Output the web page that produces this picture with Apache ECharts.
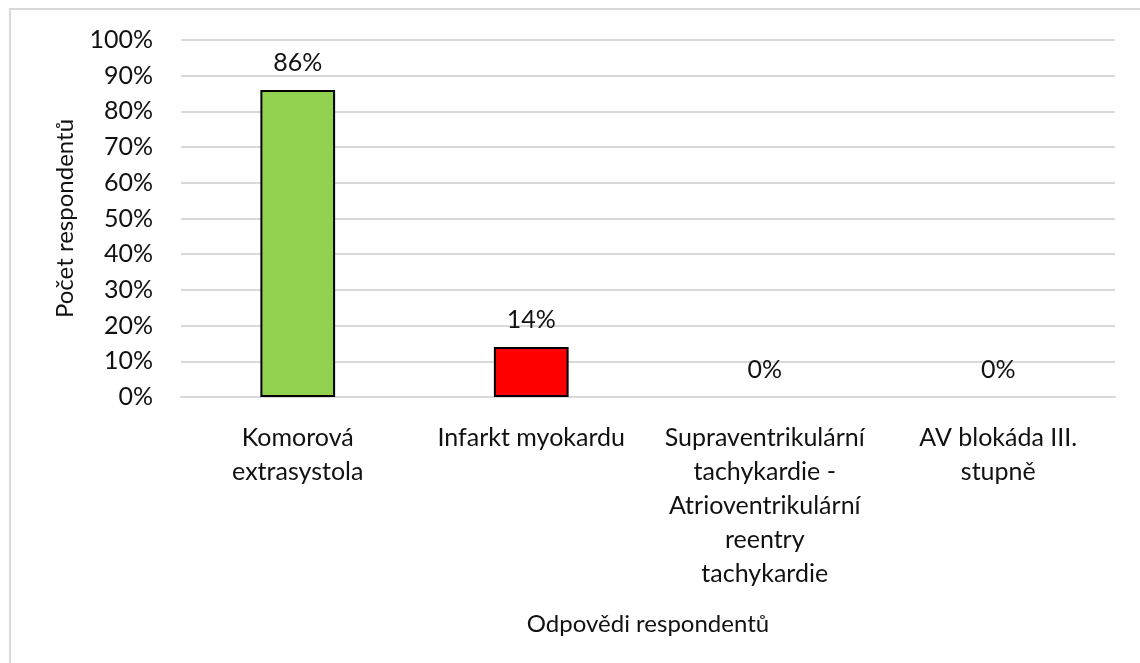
<!DOCTYPE html>
<html>
<head>
<meta charset="utf-8">
<script src="https://cdn.jsdelivr.net/npm/echarts@6/dist/echarts.min.js"></script>
<style>
  html, body { margin: 0; padding: 0; background: #fff; }
  #main { width: 1140px; height: 663px; }
</style>
</head>
<body>
<div id="main"></div>
<script>
// categories and values (percent of respondents)
var categories = [
  'Komorová\nextrasystola',
  'Infarkt myokardu',
  'Supraventrikulární\ntachykardie -\nAtrioventrikulární\nreentry\ntachykardie',
  'AV blokáda III.\nstupně'
];
var values = [86, 14, 0, 0];
var barColors = ['#92D050', '#FF0000', '#92D050', '#92D050'];

var font = 'Lato, "Open Sans", sans-serif';

var myChart = echarts.init(document.getElementById('main'));
myChart.setOption({
  animation: false,
  graphic: [{
    type: 'rect',
    shape: { x: 10, y: 9, width: 1140, height: 700 },
    style: { fill: 'none', stroke: '#D9D9D9', lineWidth: 2 },
    silent: true
  }],
  grid: { left: 181, right: 25, top: 40, bottom: 266 },
  xAxis: {
    type: 'category',
    data: categories,
    axisTick: { show: false },
    axisLine: { lineStyle: { color: '#D9D9D9', width: 2 } },
    axisLabel: {
      color: '#111', fontSize: 25, fontFamily: font, lineHeight: 34,
      margin: 24, interval: 0, align: 'center'
    },
    name: 'Odpovědi respondentů',
    nameLocation: 'middle',
    nameGap: 215,
    nameTextStyle: { color: '#111', fontSize: 24, fontFamily: font }
  },
  yAxis: {
    type: 'value',
    min: 0, max: 100, interval: 10,
    axisLabel: { formatter: '{value}%', color: '#111', fontSize: 25, fontFamily: font, margin: 28 },
    splitLine: { lineStyle: { color: '#D9D9D9', width: 2 } },
    axisLine: { show: false },
    axisTick: { show: false },
    name: 'Počet respondentů',
    nameLocation: 'middle',
    nameGap: 104,
    nameTextStyle: { color: '#111', fontSize: 24, fontFamily: font }
  },
  series: [{
    type: 'bar',
    data: values.map(function (v, i) {
      return {
        value: v,
        itemStyle: { color: barColors[i], borderWidth: v > 0 ? 2 : 0 }
      };
    }),
    barWidth: '32%',
    itemStyle: { borderColor: '#000' },
    label: {
      show: true, position: 'top', distance: 15,
      formatter: '{c}%', color: '#111', fontSize: 25, fontFamily: font
    }
  }]
});
</script>
</body>
</html>
